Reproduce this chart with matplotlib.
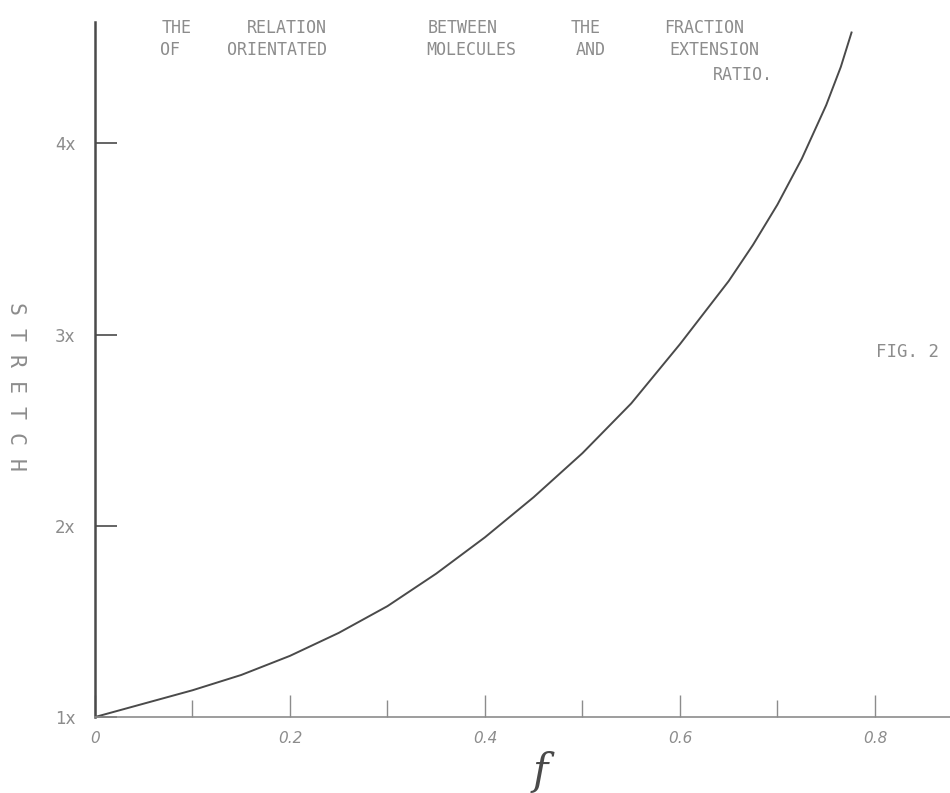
import matplotlib.pyplot as plt

# readings taken off the drawn curve
fraction = [0.0, 0.05, 0.1, 0.15, 0.2, 0.25, 0.3, 0.35, 0.4, 0.45, 0.5,
            0.55, 0.6, 0.65, 0.675, 0.7, 0.725, 0.75, 0.765, 0.776]
stretch = [1.00, 1.07, 1.14, 1.22, 1.32, 1.44, 1.58, 1.75, 1.94, 2.15, 2.38,
           2.64, 2.95, 3.28, 3.47, 3.68, 3.92, 4.20, 4.40, 4.58]

x_ticks = [0, 0.2, 0.4, 0.6, 0.8]
x_labels = ["0", "0.2", "0.4", "0.6", "0.8"]
x_minor = [0.1, 0.3, 0.5, 0.7]
y_ticks = [1, 2, 3, 4]
y_labels = ["1x", "2x", "3x", "4x"]

ink = "#4a4a4a"
pencil = "#8c8c8c"

fig = plt.figure(figsize=(9.5, 7.93), dpi=100)
ax = fig.add_axes([0.1, 0.0958, 0.9, 0.876])

ax.plot(fraction, stretch, color=ink, lw=1.4, solid_joinstyle="round")

ax.set_xlim(0, 0.877)
ax.set_ylim(1, 4.633)
ax.spines["top"].set_visible(False)
ax.spines["right"].set_visible(False)
ax.spines["left"].set_color(ink)
ax.spines["left"].set_linewidth(1.8)
ax.spines["bottom"].set_color(pencil)
ax.spines["bottom"].set_linewidth(1.2)

ax.set_xticks(x_ticks)
ax.set_xticklabels(x_labels, fontsize=11, style="italic", color=pencil)
ax.set_xticks(x_minor, minor=True)
ax.tick_params(axis="x", which="major", direction="in", length=16, width=1,
               color=pencil, pad=10)
ax.tick_params(axis="x", which="minor", direction="in", length=12, width=1,
               color=pencil)

ax.set_yticks(y_ticks)
ax.set_yticklabels(y_labels, fontsize=12, color=pencil)
ax.tick_params(axis="y", direction="in", length=16, width=1.2, color=ink,
               pad=14)

fig.text(540 / 950, 1 - 772 / 793, "f", fontsize=30, style="italic",
         family="DejaVu Serif", color=ink, ha="center", va="center")

fig.text(16 / 950, 1 - 387 / 793, "S T R E T C H", rotation=270,
         fontsize=15.5, family="DejaVu Sans Mono", color=pencil,
         ha="center", va="center")

# title, hand lettered with wide gaps between words
title_font = dict(fontsize=12, family="DejaVu Sans Mono", color=pencil,
                  ha="center", va="center")
line1 = [("THE", 177), ("RELATION", 287), ("BETWEEN", 463), ("THE", 586),
         ("FRACTION", 704)]
line2 = [("OF", 170), ("ORIENTATED", 277), ("MOLECULES", 471), ("AND", 591),
         ("EXTENSION", 714)]
for word, px in line1:
    fig.text(px / 950, 1 - 28 / 793, word, **title_font)
for word, px in line2:
    fig.text(px / 950, 1 - 50 / 793, word, **title_font)
fig.text(743 / 950, 1 - 75 / 793, "RATIO.", **title_font)

fig.text(876 / 950, 1 - 352 / 793, "FIG. 2", fontsize=12.5,
         family="DejaVu Sans Mono", color=pencil, ha="left", va="center")

plt.savefig("out.png")
